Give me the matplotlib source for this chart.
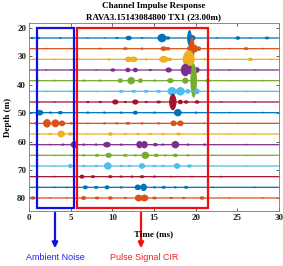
import numpy as np
import matplotlib
matplotlib.use("Agg")
import matplotlib.pyplot as plt
from matplotlib.patches import Rectangle, FancyArrowPatch

# ---------------- data ----------------
depths = [23.4, 27.15, 30.9, 34.65, 38.4, 42.15, 45.9, 49.65,
          53.4, 57.15, 60.9, 64.65, 68.4, 72.15, 75.9, 79.65]
trace_colors = ['#0072BD', '#D95319', '#EDB120', '#7E2F8E',
                '#77AC30', '#4DBEEE', '#A2142F']

# peaks per trace: (time ms, half-amplitude m, half-width ms)
peaks = [
    [(0.3, .4, .24), (1.1, .4, .24), (3.7, .35, .24), (7, .3, .24), (9, .3, .24), (10.5, .4, .24),
     (11.9, .8, .4), (13.5, .35, .24), (15.9, 1.5, .56), (16.6, .6, .32), (19.2, 2.8, .29),
     (19.6, 1.0, .32), (22.5, .3, .24), (25, .6, .32), (26.5, .3, .24), (28.5, .5, .32)],
    [(2, .3, .24), (5, .3, .24), (8.5, .35, .24), (11.5, .5, .32), (13.5, .4, .24), (16.1, .8, .4),
     (16.6, .6, .32), (19.5, 4.2, .32), (19.6, 1.5, .7), (20.3, .8, .32), (24, .3, .24),
     (26, .5, .32), (28, .3, .24)],
    [(0.5, .3, .24), (3, .3, .24), (6, .3, .24), (9.5, .4, .24), (11.9, 1.0, .48), (12.5, 1.0, .48),
     (14, .4, .24), (16.1, 1.2, .56), (16.8, .6, .32), (19.1, 3.2, .72), (21, .4, .24),
     (23.5, .3, .24), (26.5, .6, .32), (29, .3, .24)],
    [(2, .3, .24), (5, .3, .24), (8, .3, .24), (10, .6, .32), (11.8, .8, .32), (12.7, .8, .32),
     (14.5, .4, .24), (16.7, .9, .4), (18.7, 2.2, .56), (19.3, 1.5, .4), (20.1, 1.0, .32),
     (24, .3, .24), (27, .3, .24)],
    [(1, .4, .24), (3, .35, .24), (6.5, .4, .24), (8.5, .4, .24), (10.9, .8, .32), (12.2, 1.3, .48),
     (13.3, .8, .32), (15, .4, .24), (16.9, .9, .4), (18.7, 1.1, .4), (19.7, 6.0, .4),
     (21.4, .6, .32), (24, .3, .24), (28, .3, .24)],
    [(2, .3, .24), (5, .3, .24), (8, .3, .24), (11, .5, .32), (12.5, .5, .32), (14, .5, .32),
     (15.5, .5, .32), (17.1, 1.5, .56), (18.1, 1.5, .56), (19, .8, .32), (20.1, 1.0, .32),
     (22, .3, .24), (26, .3, .24)],
    [(1, .3, .24), (3, .3, .24), (7, .4, .24), (8.5, .4, .24), (10.3, .9, .4), (11.5, .4, .24),
     (12.7, .9, .4), (14, .4, .24), (15.5, .5, .32), (17.2, 2.9, .45), (18.1, .8, .32),
     (18.8, .6, .32), (20.1, .6, .32), (23, .3, .24), (27, .3, .24)],
    [(1.2, 1.0, .48), (2.5, .4, .24), (3.7, .6, .32), (7, .4, .24), (9, .4, .24), (11, .4, .24),
     (12.7, .7, .32), (15, .4, .24), (17.8, 1.3, .48), (20, .4, .24), (24, .3, .24), (28, .3, .24)],
    [(0.8, .5, .24), (2.1, 1.5, .48), (3.1, 1.4, .48), (3.9, 1.0, .4), (5, .4, .24), (7, .3, .24),
     (9, .4, .24), (10.5, .4, .24), (11.8, .5, .32), (13.5, .4, .24), (15.5, .4, .24),
     (17.3, 1.0, .4), (18.1, 1.0, .4), (21, .3, .24), (25, .3, .24)],
    [(1, .3, .24), (2.5, .4, .24), (3.8, 1.2, .48), (4.9, .6, .32), (7, .3, .24), (9.7, .6, .32),
     (11.5, .4, .24), (13, .4, .24), (14.5, .4, .24), (16, .4, .24), (17.9, .5, .32),
     (21, .3, .24), (24, .3, .24), (27, .3, .24)],
    [(0.8, .3, .24), (2.5, .3, .24), (4, .4, .24), (5.4, 1.2, .48), (6.5, .4, .24), (8, .4, .24),
     (9.3, 1.0, .48), (11, .4, .24), (13.2, 1.3, .4), (13.8, 1.3, .4), (15.1, .6, .32),
     (16, .4, .24), (17.5, 1.3, .48), (19, .4, .24), (21, .4, .24), (26, .3, .24)],
    [(1, .3, .24), (3, .3, .24), (5, .3, .24), (6.5, .4, .24), (8.1, .5, .32), (9.5, .9, .4),
     (11.5, .5, .32), (12.7, .4, .24), (13.9, 1.3, .48), (15.2, .6, .32), (16.3, .4, .24),
     (17.5, .6, .32), (19, .4, .24), (22, .3, .24), (26, .3, .24)],
    [(1, .3, .24), (3, .3, .24), (4.9, .7, .32), (6.5, .4, .24), (8, .4, .24), (9.4, 1.3, .48),
     (11, .4, .24), (12, .4, .24), (13.5, 1.0, .4), (15, .4, .24), (16, .4, .24),
     (17.7, 1.0, .4), (19.2, .6, .32), (21.5, .3, .24), (26, .3, .24)],
    [(1, .3, .24), (3, .3, .24), (6.3, .7, .32), (7.6, .5, .32), (9.7, .5, .32), (11, .4, .24),
     (12.3, .4, .24), (13.5, .5, .32), (15, .4, .24), (17, .3, .24), (19.5, .3, .24), (23, .3, .24)],
    [(1, .3, .24), (3, .3, .24), (4.5, .3, .24), (6.7, .7, .32), (8, .5, .32), (9.3, .7, .32),
     (11, .4, .24), (13.0, 1.0, .4), (13.7, 1.3, .4), (15, .4, .24), (16.1, .5, .32),
     (17.5, .4, .24), (18.8, .5, .32), (22, .3, .24), (27, .3, .24)],
    [(0.4, .6, .32), (2.5, .3, .24), (4.5, .3, .24), (6.5, .7, .32), (8.1, .5, .32), (9.7, .6, .32),
     (11.5, .4, .24), (13.1, 1.2, .48), (13.8, 1.2, .48), (15, .5, .32), (17, .4, .24),
     (18.5, .4, .24), (20.7, .6, .32), (24, .3, .24), (28, .3, .24)],
]

xticks = [0, 5, 10, 15, 20, 25, 30]
yticks = [20, 30, 40, 50, 60, 70, 80]
title_lines = ["Channel Impulse Response", "RAVA3.15143084800 TX1 (23.00m)"]
noise_box = (0.92, 5.4, 20.0, 83.3)
signal_box = (5.76, 21.5, 20.0, 83.3)

# ---------------- figure ----------------
W, H = 283, 266
fig = plt.figure(figsize=(W / 100, H / 100), dpi=100)
ax = fig.add_axes([29 / W, 1 - 211 / H, 250 / W, 188 / H])

serif = ['Liberation Serif', 'DejaVu Serif']
t = np.linspace(0, 30, 3001)
for i, (d, pk) in enumerate(zip(depths, peaks)):
    c = trace_colors[i % len(trace_colors)]
    env = np.full_like(t, 0.22)
    for (t0, a, w) in pk:
        u = np.clip(1 - ((t - t0) / w) ** 2, 0, None)
        env = np.maximum(env, a * u ** 0.6)
    ax.fill_between(t, d - env, d + env, color=c, lw=0, zorder=2 + i * 0.01)

ax.set_xlim(0, 30)
ax.set_ylim(84.4, 18.3)
ax.set_xticks(xticks)
ax.set_yticks(yticks)
ax.tick_params(direction='in', length=2, width=0.5, top=True, right=True,
               labelsize=6.5, pad=2, colors='#222222')
for lab in ax.get_xticklabels() + ax.get_yticklabels():
    lab.set_fontfamily(serif)
    lab.set_fontweight('bold')
for s in ax.spines.values():
    s.set_linewidth(0.6)
    s.set_color('#777777')

# boxes
for (x0, x1, y0, y1), col in [(noise_box, '#1010E0'), (signal_box, '#F01010')]:
    ax.add_patch(Rectangle((x0, y0), x1 - x0, y1 - y0, fill=False, ec=col,
                           lw=1.6, zorder=10, clip_on=False))

# titles & labels
fig.text(154 / W, 1 - 6 / H, title_lines[0], ha='center', va='center',
         fontsize=6.5, fontweight='bold', family=serif)
fig.text(154 / W, 1 - 17 / H, title_lines[1], ha='center', va='center',
         fontsize=6.5, fontweight='bold', family=serif)
fig.text(8 / W, 1 - 117 / H, "Depth (m)", ha='center', va='center', rotation=90,
         fontsize=6.5, fontweight='bold', family=serif)
fig.text(154 / W, 1 - 234 / H, "Time (ms)", ha='center', va='center',
         fontsize=6.5, fontweight='bold', family=serif)

# arrows and annotations
for xpx, col in [(55, '#1010E0'), (141, '#F01010')]:
    arr = FancyArrowPatch((xpx / W, 1 - 210 / H), (xpx / W, 1 - 251 / H),
                          transform=fig.transFigure, arrowstyle='-|>',
                          mutation_scale=8, lw=1.6, color=col)
    fig.patches.append(arr)

fig.text(55 / W, 1 - 258 / H, "Ambient Noise", ha='center', va='center',
         fontsize=6.5, color='#2020F0', family=['Liberation Sans', 'DejaVu Sans'])
fig.text(144 / W, 1 - 258 / H, "Pulse Signal CIR", ha='center', va='center',
         fontsize=6.5, color='#F02020', family=['Liberation Sans', 'DejaVu Sans'])

fig.savefig("out.png", dpi=100)
